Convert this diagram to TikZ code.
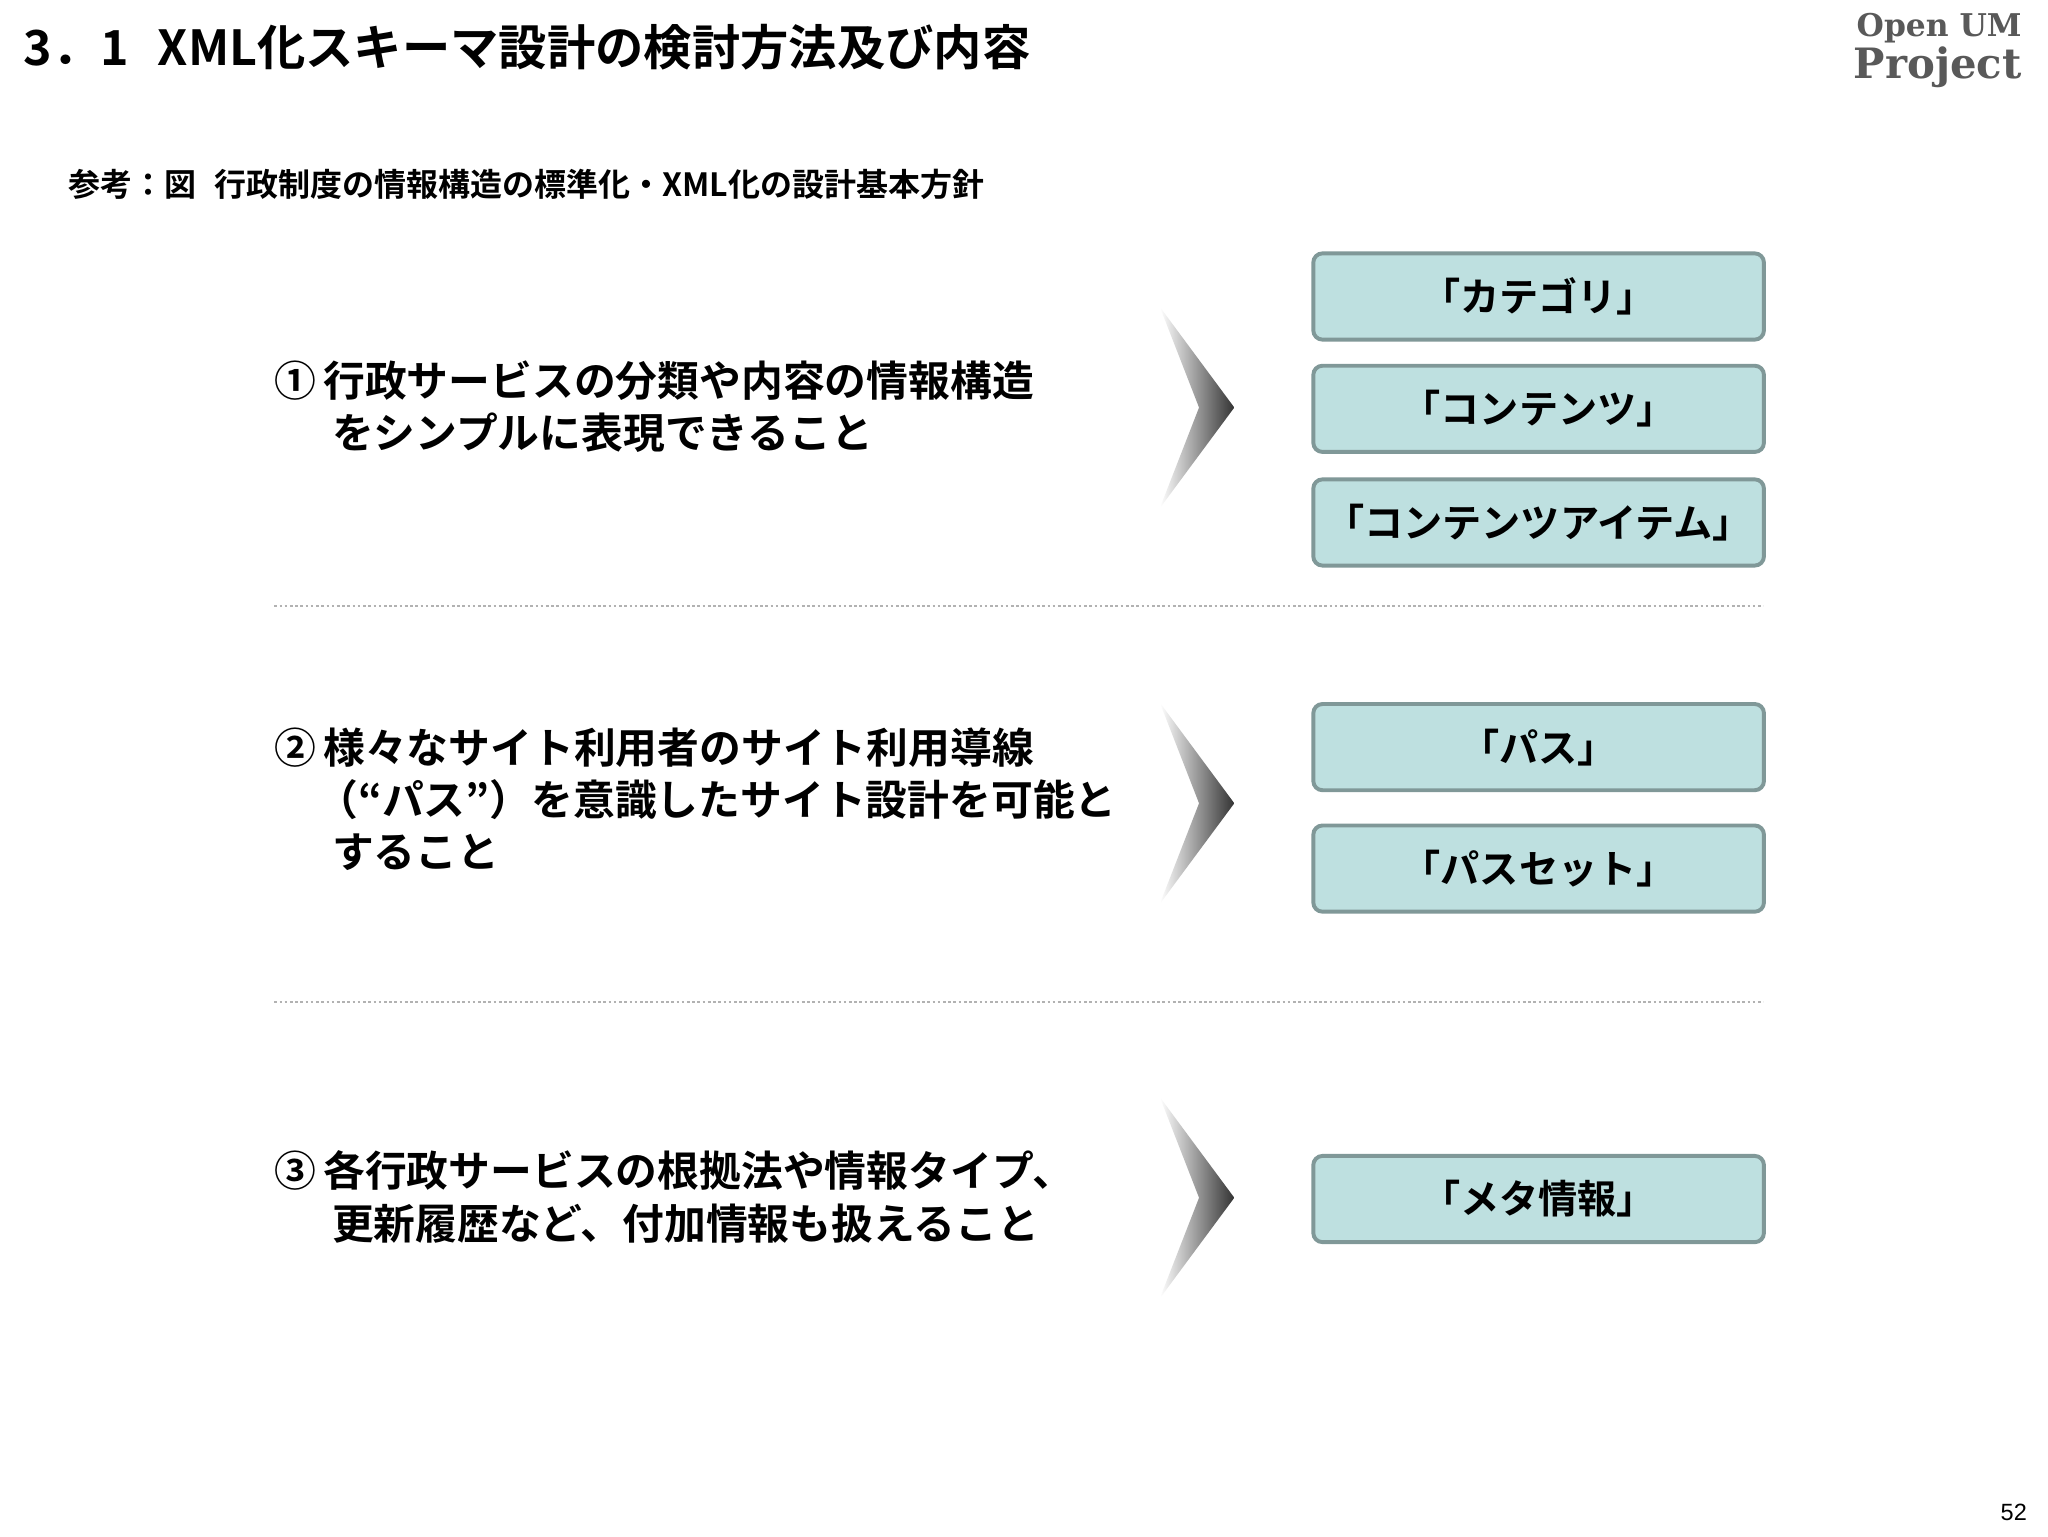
\documentclass[tikz,border=0pt]{standalone}
\usepackage{fontspec}
\newfontfamily\cjk{Noto Sans CJK JP Bold}
\newfontfamily\logo{DejaVu Serif Bold}
\setmainfont{Liberation Sans}
\definecolor{boxfill}{RGB}{190,224,224}
\definecolor{boxline}{RGB}{128,152,152}
\begin{document}
\begin{tikzpicture}[x=1pt,y=-1pt,
  tbox/.style={draw=boxline,line width=3pt,fill=boxfill,rounded corners=7pt,minimum width=345pt,minimum height=66pt,font=\cjk\fontsize{30}{32}\selectfont},
  item/.style={anchor=north west,align=left,font=\cjk\fontsize{32}{40}\selectfont,inner sep=0pt},
  sep/.style={draw=black!30,line width=2pt,dotted}]
\useasboundingbox (0,0) rectangle (1568,1176);
\fill[white] (0,0) rectangle (1568,1176);
\node[anchor=west,inner sep=0pt,font=\cjk\fontsize{37}{40}\selectfont] (title) at (18,36) {3．1\hspace{22pt}XML化スキーマ設計の検討方法及び内容};
\node[anchor=north east,inner sep=0pt,align=right,text=black!65,font=\logo] (logo) at (1548,10) {{\fontsize{24}{26}\selectfont Open UM}\\[2pt]{\fontsize{32}{32}\selectfont Project}};
\node[anchor=west,inner sep=0pt,font=\cjk\fontsize{24.5}{26}\selectfont] (sub) at (52,141) {参考：図\hspace{14pt}行政制度の情報構造の標準化・XML化の設計基本方針};
\node[item] (i1) at (210,276) {①\,行政サービスの分類や内容の情報構造\\\hspace{44pt}をシンプルに表現できること};
\node[item] (i2) at (210,557) {②\,様々なサイト利用者のサイト利用導線\\\hspace{32pt}（“パス”）を意識したサイト設計を可能と\\\hspace{44pt}すること};
\node[item] (i3) at (210,881) {③\,各行政サービスの根拠法や情報タイプ、\\\hspace{44pt}更新履歴など、付加情報も扱えること};
\foreach \n/\c in {a1/312,a2/615,a3/917}{
  \shade[left color=white,right color=black!80] (888,\c-77) -- (945,\c) -- (888,\c+77) -- (918,\c) -- cycle;
  \coordinate (\n) at (945,\c);
}
\node[tbox] (b1) at (1178,227) {「カテゴリ」};
\node[tbox] (b2) at (1178,313) {「コンテンツ」};
\node[tbox] (b3) at (1178,400) {「コンテンツアイテム」};
\node[tbox] (b4) at (1178,572) {「パス」};
\node[tbox] (b5) at (1178,665) {「パスセット」};
\node[tbox] (b6) at (1178,918) {「メタ情報」};
\coordinate (s1a) at (210,464); \coordinate (s1b) at (1350,464);
\coordinate (s2a) at (210,767); \coordinate (s2b) at (1350,767);
\draw[sep] (s1a) -- (s1b);
\draw[sep] (s2a) -- (s2b);
\node[anchor=east,inner sep=0pt,font=\fontsize{18}{20}\selectfont] (pg) at (1552,1158) {52};
\end{tikzpicture}
\end{document}
